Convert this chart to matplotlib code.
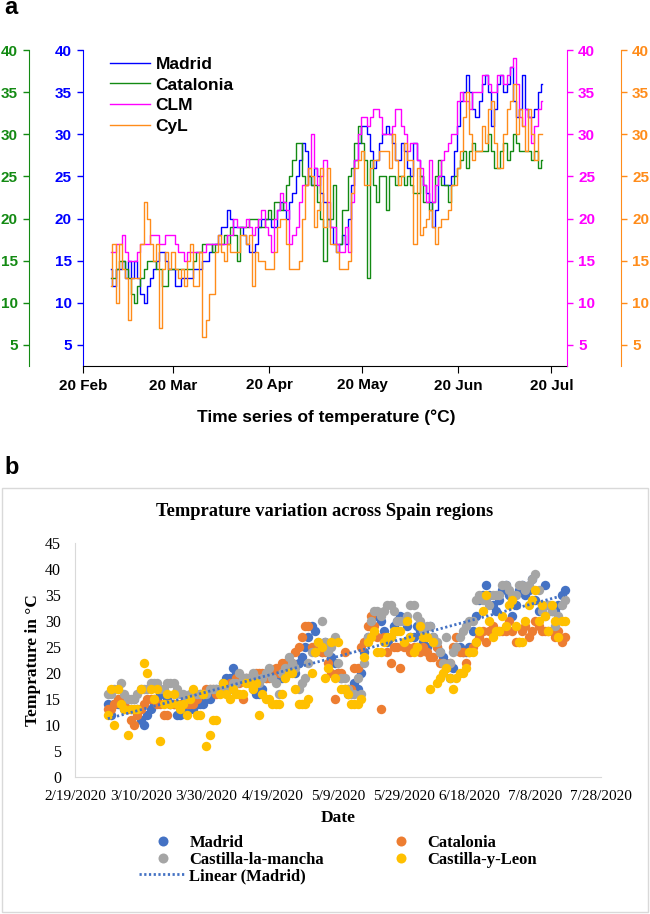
import numpy as np
import pandas as pd
import matplotlib
matplotlib.use('Agg')
import matplotlib.pyplot as plt
import matplotlib.dates as mdates
from matplotlib.lines import Line2D
from matplotlib.patches import Rectangle

# daily temperatures, 29 Feb - 17 Jul 2020
start_date = '2020-02-29'
end_date = '2020-07-17'

madrid = [14, 12, 14, 14, 15, 13, 15, 13, 15, 13,
          11, 10, 12, 13, 14, 15, 16, 16, 15, 14,
          14, 12, 12, 13, 13, 13, 13, 14, 14, 14,
          15, 15, 16, 17, 17, 18, 19, 19, 21, 20,
          19, 19, 19, 18, 17, 16, 16, 17, 19, 20,
          20, 20, 19, 19, 21, 22, 21, 20, 22, 23,
          25, 27, 29, 28, 25, 24, 26, 25, 23, 22,
          20, 19, 17, 16, 17, 18, 17, 20, 24, 27,
          29, 31, 31, 30, 28, 26, 27, 29, 30, 31,
          30, 29, 27, 27, 29, 28, 26, 25, 29, 27,
          25, 24, 23, 22, 19, 21, 25, 25, 24, 24,
          25, 28, 31, 34, 35, 37, 35, 33, 32, 34,
          36, 37, 35, 31, 33, 36, 37, 35, 36, 38,
          34, 32, 33, 37, 33, 32, 32, 33, 35, 36]

catalonia = [13, 13, 14, 15, 15, 14, 13, 11, 10, 12,
             13, 14, 15, 15, 15, 14, 14, 12, 12, 14,
             14, 14, 14, 14, 14, 14, 14, 15, 16, 16,
             17, 17, 17, 16, 17, 17, 17, 18, 17, 19,
             18, 15, 19, 19, 19, 20, 20, 20, 19, 19,
             20, 21, 20, 22, 22, 21, 22, 24, 25, 27,
             29, 29, 25, 24, 25, 24, 24, 22, 20, 15,
             20, 20, 24, 17, 17, 21, 21, 25, 26, 29,
             31, 29, 27, 13, 27, 24, 22, 25, 25, 21,
             25, 25, 24, 25, 25, 24, 25, 24, 23, 23,
             25, 22, 22, 21, 22, 25, 27, 24, 24, 22,
             24, 25, 26, 27, 28, 26, 28, 29, 28, 28,
             28, 28, 30, 28, 26, 26, 28, 29, 27, 28,
             30, 29, 28, 28, 28, 28, 27, 28, 26, 27]

clm = [16, 16, 17, 17, 18, 16, 15, 15, 15, 16,
       17, 17, 17, 18, 18, 18, 17, 17, 18, 18,
       18, 17, 16, 16, 15, 16, 16, 16, 16, 16,
       16, 17, 17, 17, 17, 17, 17, 17, 18, 18,
       20, 19, 19, 19, 20, 19, 18, 19, 20, 21,
       19, 18, 16, 20, 21, 23, 22, 21, 17, 18,
       19, 22, 24, 24, 26, 30, 26, 24, 25, 27,
       22, 19, 19, 17, 16, 16, 19, 16, 22, 27,
       30, 32, 32, 31, 32, 33, 33, 32, 30, 30,
       30, 31, 33, 33, 31, 30, 28, 29, 29, 27,
       26, 24, 22, 27, 22, 24, 25, 27, 28, 29,
       30, 30, 34, 35, 34, 34, 33, 35, 35, 35,
       37, 37, 36, 35, 35, 37, 37, 36, 37, 38,
       39, 36, 32, 31, 33, 32, 29, 31, 33, 34]

cyl = [12, 17, 10, 17, 14, 13, 8, 13, 13, 13,
       17, 22, 20, 17, 15, 17, 7, 14, 16, 14,
       16, 14, 13, 14, 12, 15, 17, 12, 12, 16,
       6, 8, 11, 11, 16, 18, 16, 15, 17, 16,
       16, 16, 18, 18, 17, 18, 12, 16, 15, 15,
       14, 14, 14, 16, 19, 20, 20, 17, 14, 14,
       14, 15, 20, 24, 26, 25, 19, 21, 26, 19,
       26, 17, 17, 16, 14, 14, 14, 15, 23, 26,
       27, 28, 24, 24, 26, 27, 27, 28, 28, 28,
       26, 30, 27, 24, 25, 29, 27, 27, 17, 26,
       18, 19, 20, 21, 19, 17, 19, 20, 20, 21,
       24, 24, 26, 28, 32, 35, 30, 27, 28, 28,
       31, 29, 33, 34, 29, 26, 26, 30, 33, 34,
       36, 30, 33, 31, 28, 33, 30, 27, 30, 30]

names_a = ['Madrid', 'Catalonia', 'CLM', 'CyL']
names_b = ['Madrid', 'Catalonia', 'Castilla-la-mancha', 'Castilla-y-Leon']
temp_ticks_a = [5, 10, 15, 20, 25, 30, 35, 40]
temp_ticks_b = [0, 5, 10, 15, 20, 25, 30, 35, 40, 45]

sans = 'Liberation Sans'
serif = 'Liberation Serif'
plt.rcParams['font.family'] = [sans, 'DejaVu Sans']
plt.rcParams['font.weight'] = 'bold'

dates = pd.date_range(start_date, end_date, freq='D')
series = [madrid, catalonia, clm, cyl]

W, H = 650, 914
fig = plt.figure(figsize=(W / 100, H / 100), dpi=100)


def fx(px):
    return px / W


def fy(py):
    return 1 - py / H


# ---------------- panel a : stepped time series, one y axis per region ----------------
cols_a = ['#0000ff', '#138a13', '#ff00ff', '#ff8c1a']

ax = fig.add_axes([fx(83), fy(366), fx(567) - fx(83), fy(50) - fy(366)])
ax_g = ax.twinx()
ax_m = ax.twinx()
ax_o = ax.twinx()
axes_a = [ax, ax_g, ax_m, ax_o]

handles = []
for a, vals, c, n in zip(axes_a, series, cols_a, names_a):
    l, = a.step(dates, vals, where='mid', color=c, lw=1.0, label=n)
    handles.append(l)
    a.set_ylim(2.5, 40)
    a.set_yticks(temp_ticks_a)
    for s in a.spines.values():
        s.set_visible(False)
    a.tick_params(axis='y', colors=c, labelsize=11, length=4, width=1, pad=4)

ax.spines['left'].set_visible(True)
ax.spines['left'].set_color(cols_a[0])
ax.spines['bottom'].set_visible(True)

ax_g.yaxis.set_ticks_position('left')
ax_g.yaxis.set_label_position('left')
ax_g.spines['left'].set_visible(True)
ax_g.spines['left'].set_position(('axes', -54 / 484))
ax_g.spines['left'].set_color(cols_a[1])

ax_m.spines['right'].set_visible(True)
ax_m.spines['right'].set_color(cols_a[2])

ax_o.spines['right'].set_visible(True)
ax_o.spines['right'].set_position(('axes', 1 + 54 / 484))
ax_o.spines['right'].set_color(cols_a[3])

ax.set_xlim(pd.Timestamp('2020-02-20'), pd.Timestamp('2020-02-20') + pd.Timedelta(days=156))
ax.xaxis.set_major_locator(mdates.DayLocator(bymonthday=20))
ax.xaxis.set_major_formatter(mdates.DateFormatter('%d %b'))
ax.tick_params(axis='x', labelsize=11, length=5, pad=4)

ax_o.legend(handles=handles, loc='upper left', bbox_to_anchor=(fx(101), fy(48)),
            bbox_transform=fig.transFigure, frameon=False, borderpad=0,
            handlelength=2.3, handletextpad=0.35, labelspacing=0.32,
            prop={'family': sans, 'weight': 'bold', 'size': 12.5})

fig.text(fx(326), fy(417), 'Time series of temperature (°C)', ha='center', va='center',
         fontsize=12.5)
fig.text(fx(4), fy(14), 'a', fontsize=17, va='baseline')

# ---------------- panel b : scatter with Madrid trend ----------------
cols_b = ['#4472c4', '#ed7d31', '#a5a5a5', '#ffc000']

fig.add_artist(Rectangle((fx(2), fy(912)), fx(648) - fx(2), fy(488) - fy(912),
                         transform=fig.transFigure, fill=False, ec='#d9d9d9', lw=1))
fig.text(fx(4), fy(474), 'b', fontsize=17, va='baseline')

bx = fig.add_axes([fx(75), fy(777), fx(601) - fx(75), fy(543) - fy(777)])
for vals, c, n in zip(series, cols_b, names_b):
    bx.scatter(dates, vals, s=46, color=c, label=n, lw=0)

xnum = mdates.date2num(dates)
coef = np.polyfit(xnum, madrid, 1)
bx.plot(dates, np.polyval(coef, xnum), color=cols_b[0], lw=2, dashes=(0.8, 0.9))

bx.set_xlim(pd.Timestamp('2020-02-19'), pd.Timestamp('2020-07-28'))
bx.set_ylim(0, 45)
xt = pd.date_range('2020-02-19', '2020-07-28', freq='20D')
bx.set_xticks(xt, labels=[f'{d.month}/{d.day}/{d.year}' for d in xt],
              family=serif, fontweight='normal', fontsize=11)
bx.set_yticks(temp_ticks_b, labels=[str(v) for v in temp_ticks_b],
              family=serif, fontweight='normal', fontsize=11.5)
bx.tick_params(axis='x', length=0, pad=9)
bx.tick_params(axis='y', length=0, pad=10)
for s in ['top', 'right']:
    bx.spines[s].set_visible(False)
for s in ['left', 'bottom']:
    bx.spines[s].set_color('#d9d9d9')

fig.text(fx(325), fy(512), 'Temprature variation across Spain regions', ha='center', va='center',
         family=serif, fontsize=13.3)
fig.text(fx(33), fy(660), 'Temprature in °C', ha='center', va='center', rotation=90,
         family=serif, fontsize=12.5)
fig.text(fx(338), fy(818), 'Date', ha='center', va='center', family=serif, fontsize=12.5)

leg_handles = [Line2D([], [], ls='none', marker='o', ms=7.2, mec='none', color=c) for c in cols_b]
trend_handle = Line2D([], [], color=cols_b[0], lw=2, dashes=(0.8, 0.9))
order_h = [leg_handles[0], leg_handles[2], trend_handle, leg_handles[1], leg_handles[3]]
order_l = [names_b[0], names_b[2], 'Linear (Madrid)', names_b[1], names_b[3]]
fig.legend(order_h, order_l, ncol=2, loc='upper left', bbox_to_anchor=(fx(131), fy(827)),
           frameon=False, borderpad=0, handlelength=2.8, handletextpad=0.2,
           columnspacing=3.2, labelspacing=0.02,
           prop={'family': serif, 'weight': 'bold', 'size': 12})

fig.savefig('out.png', dpi=100)
